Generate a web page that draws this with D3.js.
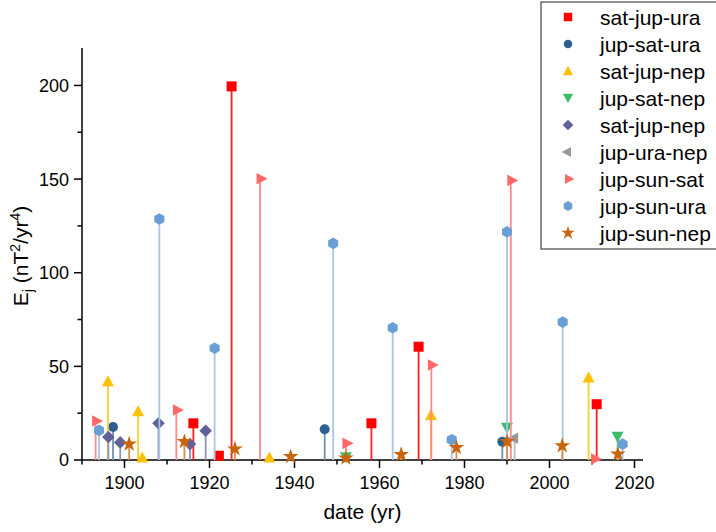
<!DOCTYPE html>
<html>
<head>
<meta charset="utf-8">
<script src="https://cdn.jsdelivr.net/npm/d3@7"></script>
<style>
  body { margin: 0; background: #fff; }
  svg text { font-family: Arial, "Liberation Sans", sans-serif; fill: #000; }
</style>
</head>
<body>
<svg width="716" height="532"></svg>
<script>
// [year, Ej] pairs per series
var satJupUra = [[1916.2, 19.6], [1922.2, 2.3], [1925.2, 199.5], [1958.1, 19.6], [1969.2, 60.5], [2011.1, 29.8]];
var jupSatUra = [[1897.3, 17.6], [1947.1, 16.4], [1988.9, 9.8]];
var satJupNep = [[1896.1, 42], [1903.2, 26], [1904.2, 1.4], [1934.1, 1.4], [1972.1, 24], [2009.2, 44]];
var jupSatNep = [[1952.1, 1.5], [1990, 17.2], [2016, 12.4]];
var satJupNep2 = [[1896.2, 12.3], [1899, 9.4], [1908, 19.6], [1915.4, 8.5], [1919.1, 15.6]];
var jupUraNep = [[1991.8, 11.6]];
var jupSunSat = [[1893.2, 20.8], [1912.2, 26.7], [1931.9, 150.2], [1952.1, 8.9], [1972.2, 50.7], [1990.9, 149.3], [2010.6, 0.5]];
var jupSunUra = [[1894, 15.8], [1908.2, 128.7], [1921.2, 59.7], [1949.1, 115.7], [1963.1, 70.6], [1977, 10.8], [1990, 121.8], [2003.1, 73.6], [2017.2, 8.5]];
var jupSunNep = [[1901.1, 8.5], [1914.1, 9.8], [1926, 5.9], [1939.1, 1.8], [1952.1, 1], [1965.1, 2.9], [1978.1, 6.6], [1990, 9.8], [2003, 7.6], [2016.1, 3.2]];

var seriesNames = ["sat-jup-ura", "jup-sat-ura", "sat-jup-nep", "jup-sat-nep", "sat-jup-nep", "jup-ura-nep", "jup-sun-sat", "jup-sun-ura", "jup-sun-nep"];
var xTicks = [1900, 1920, 1940, 1960, 1980, 2000, 2020];
var yTicks = [0, 50, 100, 150, 200];

var svg = d3.select('svg');
var pLeft = 82, pRight = 643, pTop = 48, pBottom = 460;

var x = d3.scaleLinear().domain([1890, 2022]).range([pLeft, pRight]);
var y = d3.scaleLinear().domain([0, 220]).range([pBottom, pTop]);

// marker shapes, all centred on the data point
function poly(pts){
  return "M" + pts.map(function(p){ return p.join(","); }).join("L") + "Z";
}
var hex = d3.range(6).map(function(i){
  var a = Math.PI / 3 * i - Math.PI / 2;
  return [5.8 * Math.cos(a), 5.8 * Math.sin(a)];
});
var shapes = {
  square: "M-5,-5H5V5H-5Z",
  circle: d3.symbol().type(d3.symbolCircle).size(78)(),
  up: poly([[0, -6], [6, 5], [-6, 5]]),
  down: poly([[0, 6], [6, -5], [-6, -5]]),
  diamond: poly([[0, -6.3], [6.3, 0], [0, 6.3], [-6.3, 0]]),
  leftTri: poly([[-7.5, 0], [3.5, -5.8], [3.5, 5.8]]),
  rightTri: poly([[7.5, 0], [-3.5, -5.8], [-3.5, 5.8]]),
  hex: poly(hex),
  star: d3.symbol().type(d3.symbolStar).size(76)()
};

var series = [
  {data: satJupUra, color: "#ff0000", stem: "#ff2020", shape: "square"},
  {data: jupSatUra, color: "#2d5f93", stem: "#6d8fb3", shape: "circle"},
  {data: satJupNep, color: "#ffc000", stem: "#ffcc33", shape: "up"},
  {data: jupSatNep, color: "#3cbb6c", stem: "#7fd6a0", shape: "down"},
  {data: satJupNep2, color: "#60609a", stem: "#9090b8", shape: "diamond"},
  {data: jupUraNep, color: "#999999", stem: "#bbbbbb", shape: "leftTri"},
  {data: jupSunSat, color: "#ff6868", stem: "#ff8a8a", shape: "rightTri"},
  {data: jupSunUra, color: "#699fd5", stem: "#a8c6e8", shape: "hex"},
  {data: jupSunNep, color: "#c8640a", stem: "#d99050", shape: "star"}
];

// axes
var xAxis = svg.append('g').attr('transform', 'translate(0,' + pBottom + ')');
xAxis.append('line').attr('x1', pLeft).attr('x2', pRight).attr('stroke', '#000').attr('stroke-width', 1.5);
d3.range(1890, 2022, 10).forEach(function(t){
  var major = xTicks.indexOf(t) >= 0;
  xAxis.append('line').attr('x1', x(t)).attr('x2', x(t)).attr('y1', 0).attr('y2', major ? 8 : 4.5)
    .attr('stroke', '#000').attr('stroke-width', 1.5);
});
xAxis.selectAll('text.tick').data(xTicks).enter().append('text')
  .attr('x', function(d){ return x(d); }).attr('y', 29)
  .attr('text-anchor', 'middle').attr('font-size', 18).text(function(d){ return d; });

var yAxis = svg.append('g');
yAxis.append('line').attr('x1', pLeft).attr('x2', pLeft).attr('y1', pTop).attr('y2', pBottom)
  .attr('stroke', '#000').attr('stroke-width', 1.5);
d3.range(0, 220, 25).forEach(function(t){
  var major = yTicks.indexOf(t) >= 0;
  yAxis.append('line').attr('x1', pLeft - (major ? 8 : 4.5)).attr('x2', pLeft).attr('y1', y(t)).attr('y2', y(t))
    .attr('stroke', '#000').attr('stroke-width', 1.5);
});
yAxis.selectAll('text.tick').data(yTicks).enter().append('text')
  .attr('x', 69).attr('y', function(d){ return y(d); }).attr('dy', '0.36em')
  .attr('text-anchor', 'end').attr('font-size', 18).text(function(d){ return d; });

// axis titles
svg.append('text').attr('x', (pLeft + pRight) / 2).attr('y', 519)
  .attr('text-anchor', 'middle').attr('font-size', 21).text('date (yr)');

var yl = svg.append('text').attr('transform', 'translate(28,256) rotate(-90)')
  .attr('text-anchor', 'middle').attr('font-size', 21);
yl.append('tspan').text('E');
yl.append('tspan').attr('font-size', 14).attr('dy', 5).text('j');
yl.append('tspan').attr('dy', -5).text(' (nT');
yl.append('tspan').attr('font-size', 14).attr('dy', -8).text('2');
yl.append('tspan').attr('dy', 8).text('/yr');
yl.append('tspan').attr('font-size', 14).attr('dy', -8).text('4');
yl.append('tspan').attr('dy', 8).text(')');

// drop lines and markers
series.forEach(function(s){
  var g = svg.append('g');
  g.selectAll('line').data(s.data).enter().append('line')
    .attr('x1', function(d){ return x(d[0]); }).attr('x2', function(d){ return x(d[0]); })
    .attr('y1', y(0)).attr('y2', function(d){ return y(d[1]); })
    .attr('stroke', s.stem).attr('stroke-width', 1.8);
  g.selectAll('path').data(s.data).enter().append('path')
    .attr('d', shapes[s.shape])
    .attr('transform', function(d){ return 'translate(' + x(d[0]) + ',' + y(d[1]) + ')'; })
    .attr('fill', s.color);
});

// legend
var lg = svg.append('g');
lg.append('rect').attr('x', 541).attr('y', 2).attr('width', 200).attr('height', 247)
  .attr('fill', '#fff').attr('stroke', '#444').attr('stroke-width', 1.2);
series.forEach(function(s, i){
  var cy = 17 + i * 27;
  lg.append('path').attr('d', shapes[s.shape])
    .attr('transform', 'translate(568,' + cy + ') scale(0.85)').attr('fill', s.color);
  lg.append('text').attr('x', 600).attr('y', cy).attr('dy', '0.36em')
    .attr('font-size', 21).text(seriesNames[i]);
});
</script>
</body>
</html>
